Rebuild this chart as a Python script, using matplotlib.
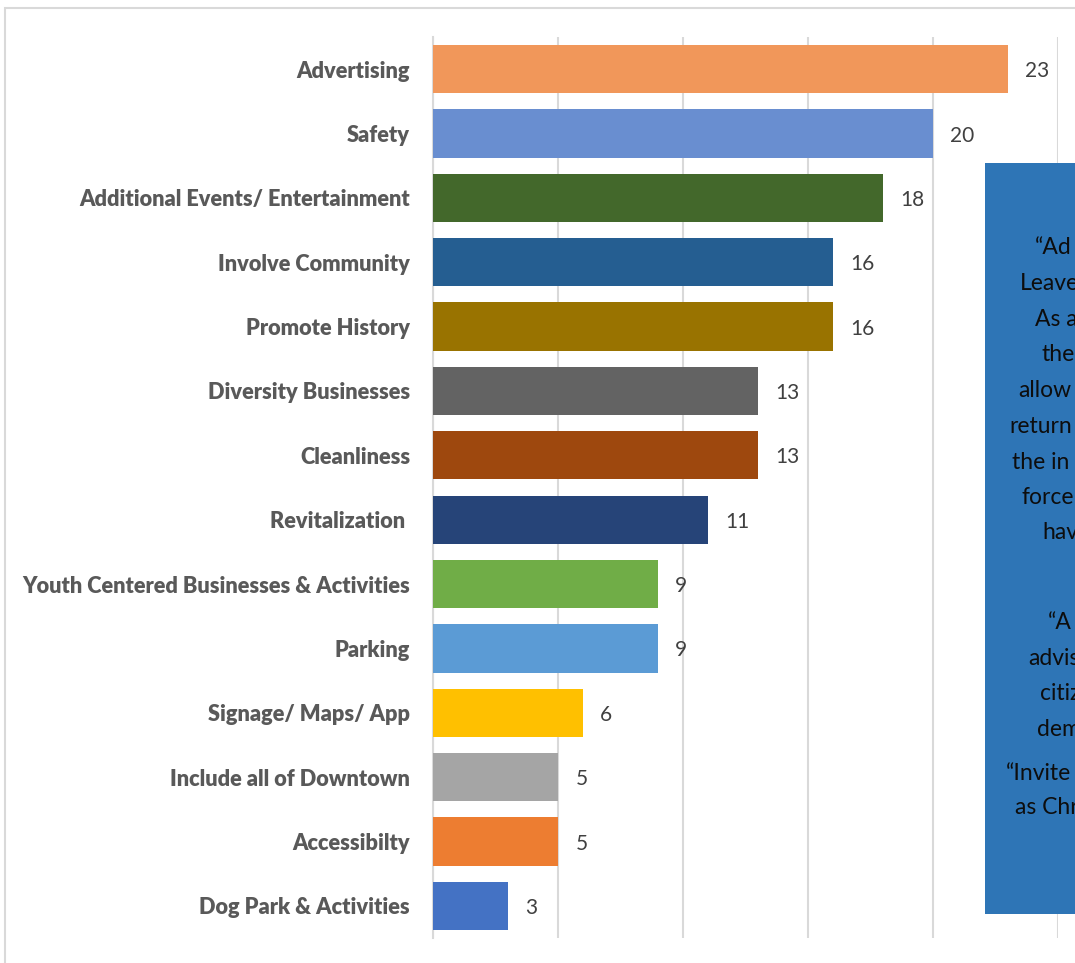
import matplotlib.pyplot as plt
from matplotlib.patches import Rectangle

# survey responses: suggested improvements and number of mentions
categories = [
    "Advertising",
    "Safety",
    "Additional Events/ Entertainment",
    "Involve Community",
    "Promote History",
    "Diversity Businesses",
    "Cleanliness",
    "Revitalization ",
    "Youth Centered Businesses & Activities",
    "Parking",
    "Signage/ Maps/ App",
    "Include all of Downtown",
    "Accessibilty",
    "Dog Park & Activities",
]
counts = [23, 20, 18, 16, 16, 13, 13, 11, 9, 9, 6, 5, 5, 3]
bar_colors = [
    "#F1975A", "#698ED0", "#43682B", "#255E91", "#997300", "#636363", "#9E480E",
    "#264478", "#70AD47", "#5B9BD5", "#FFC000", "#A5A5A5", "#ED7D31", "#4472C4",
]
x_ticks = [0, 5, 10, 15, 20, 25]

# quote text in the callout box (left edge x, centre y, text)
quote_lines = [
    (1035, 247, "\u201cAd"),
    (1020, 283, "Leave"),
    (1035, 319, "As a"),
    (1042, 354, "the"),
    (1018, 390, "allow"),
    (1009, 426, "return"),
    (1012, 462, "the in"),
    (1021, 497, "force"),
    (1042, 532, "hav"),
    (1048, 622, "\u201cA"),
    (1028, 658, "advis"),
    (1040, 693, "citiz"),
    (1037, 729, "dem"),
    (1006, 773, "\u201cInvite"),
    (1015, 808, "as Chr"),
]

W, H = 1075, 963
plt.rcParams["font.family"] = ["Lato", "DejaVu Sans"]

fig = plt.figure(figsize=(W / 100, H / 100), dpi=100)

# chart area outline
fig.patches.append(Rectangle((5 / W, -0.1), 1.2, 1 - 8 / H + 0.1, transform=fig.transFigure,
                             fill=False, edgecolor="#D9D9D9", linewidth=1.5))

ax = fig.add_axes([433 / W, 1 - 938 / H, (1058 - 433) / W, (938 - 37) / H])
ypos = list(range(len(categories)))
ax.barh(ypos, counts, height=0.75, color=bar_colors, zorder=3)
ax.set_xlim(0, 25)
ax.set_ylim(len(categories) - 0.5, -0.5)
ax.set_xticks(x_ticks)
ax.set_xticklabels([])
ax.tick_params(axis="x", length=0)
ax.tick_params(axis="y", length=0, pad=16.5)
ax.set_yticks(ypos)
ax.set_yticklabels(categories, fontsize=15.7, fontweight="heavy", color="#595959")
ax.grid(axis="x", color="#D9D9D9", linewidth=1.5, zorder=0)
for s in ["top", "right", "bottom"]:
    ax.spines[s].set_visible(False)
ax.spines["left"].set_color("#D9D9D9")
ax.spines["left"].set_linewidth(1.5)

for y, v in zip(ypos, counts):
    ax.annotate(str(v), (v, y), xytext=(12.5, -1.5), textcoords="offset points",
                va="center", ha="left", fontsize=15, color="#404040")

# callout box on the right
fig.patches.append(Rectangle((985 / W, 1 - 914 / H), 0.2, (914 - 163) / H,
                             transform=fig.transFigure, facecolor="#2E75B6",
                             edgecolor="none", zorder=5))
for x, y, line in quote_lines:
    fig.text(x / W, 1 - y / H, line, ha="left", va="center",
             fontsize=16.5, color="#0D0D0D", zorder=6)

fig.savefig("out.png", dpi=100)
